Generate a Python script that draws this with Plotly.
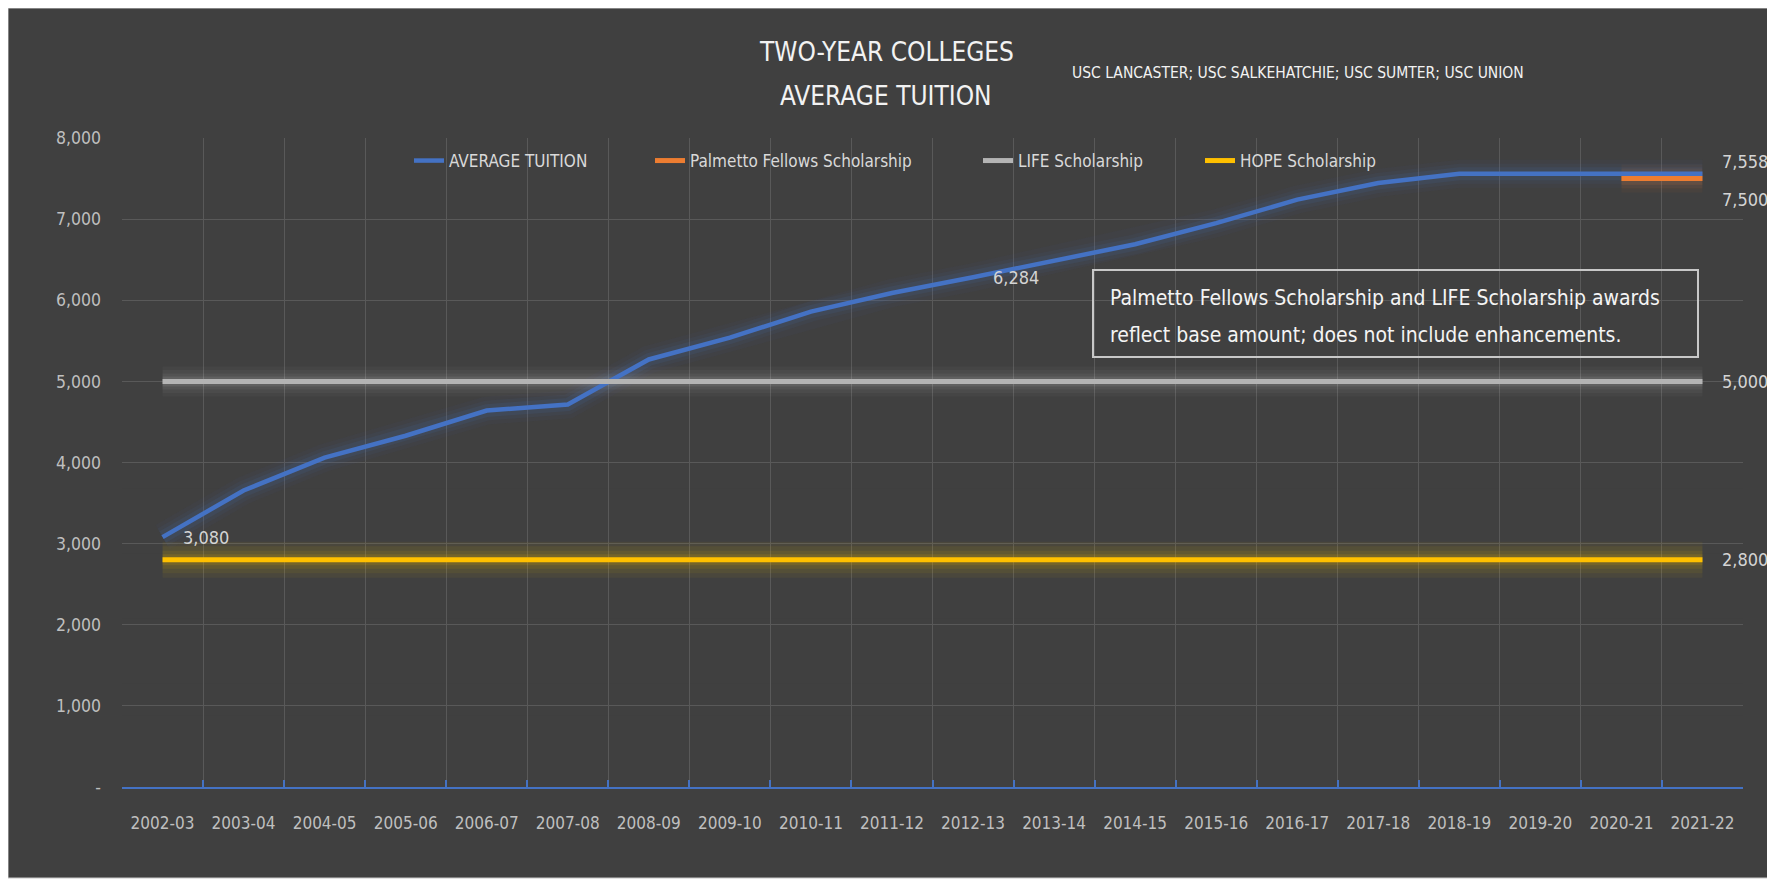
import plotly.graph_objects as go

years = ["2002-03", "2003-04", "2004-05", "2005-06", "2006-07", "2007-08", "2008-09",
         "2009-10", "2010-11", "2011-12", "2012-13", "2013-14", "2014-15", "2015-16",
         "2016-17", "2017-18", "2018-19", "2019-20", "2020-21", "2021-22"]
avg_tuition = [3080, 3655, 4060, 4330, 4640, 4715, 5270, 5540, 5860, 6090,
               6284, 6480, 6690, 6950, 7240, 7446, 7558, 7558, 7558, 7558]
palmetto = [None, None, None, None, None, None, None, None, None, None,
            None, None, None, None, None, None, None, None, 7500, 7500]
life = [5000, 5000, 5000, 5000, 5000, 5000, 5000, 5000, 5000, 5000,
        5000, 5000, 5000, 5000, 5000, 5000, 5000, 5000, 5000, 5000]
hope = [2800, 2800, 2800, 2800, 2800, 2800, 2800, 2800, 2800, 2800,
        2800, 2800, 2800, 2800, 2800, 2800, 2800, 2800, 2800, 2800]
y_ticks = [0, 1000, 2000, 3000, 4000, 5000, 6000, 7000, 8000]
y_ticktext = ["-", "1,000", "2,000", "3,000", "4,000", "5,000", "6,000", "7,000", "8,000"]

FONT = "DejaVu Sans Condensed, Liberation Sans, sans-serif"
BG = "#404040"
OFF = 8  # page body margin
W, H = 1775 - OFF, 883 - OFF
L, R, T, B = 122, 1743, 138, 787  # plot area, screen pixels


def px(x):
    return (x - L) / (R - L)


def py(y):
    return (B - y) / (B - T)


series = [
    ("AVERAGE TUITION", avg_tuition, "#4472C4", 4.5, "rgba(68,114,196,{})", "legend",
     [(28, 0.04), (20, 0.06), (13, 0.10)]),
    ("Palmetto Fellows Scholarship", palmetto, "#ED7D31", 5, "rgba(237,125,49,{})", "legend2",
     [(28, 0.05), (20, 0.07), (13, 0.10)]),
    ("LIFE Scholarship", life, "#B4B4B4", 5, "rgba(225,225,225,{})", "legend3",
     [(30, 0.03), (23, 0.04), (16, 0.06), (10, 0.10)]),
    ("HOPE Scholarship", hope, "#FFC000", 5, "rgba(230,180,0,{})", "legend4",
     [(36, 0.06), (27, 0.07), (18, 0.10), (11, 0.14)]),
]

fig = go.Figure()

# soft glow under each line
for name, vals, color, width, glow, lg, layers in series:
    for gw, op in layers:
        fig.add_trace(go.Scatter(x=years, y=vals, mode="lines", showlegend=False,
                                 hoverinfo="skip",
                                 line=dict(color=glow.format(op), width=gw)))

for name, vals, color, width, glow, lg, layers in series:
    fig.add_trace(go.Scatter(x=years, y=vals, mode="lines", name=name, legend=lg,
                             line=dict(color=color, width=width)))

# data labels
labels = [
    (avg_tuition, [0, 10, 19], {19: 12}),
    (palmetto, [19], {19: -21}),
    (life, [19], {}),
    (hope, [19], {}),
]
for vals, idxs, shifts in labels:
    for i in idxs:
        fig.add_annotation(x=years[i], y=vals[i], text=f"{vals[i]:,}", showarrow=False,
                           xanchor="left", yanchor="middle", xshift=18, yshift=shifts.get(i, 0),
                           font=dict(family=FONT, size=18, color="#d4d4d4"))

# titles
fig.add_annotation(xref="paper", yref="paper", x=px(886), y=py(52), text="TWO-YEAR COLLEGES",
                   xanchor="center", yanchor="middle",
                   showarrow=False, font=dict(family=FONT, size=26, color="#f2f2f2"))
fig.add_annotation(xref="paper", yref="paper", x=px(886), y=py(96), text="AVERAGE TUITION",
                   xanchor="center", yanchor="middle",
                   showarrow=False, font=dict(family=FONT, size=26, color="#f2f2f2"))
fig.add_annotation(xref="paper", yref="paper", x=px(1070), y=py(73), xanchor="left",
                   yanchor="middle",
                   text="USC LANCASTER; USC SALKEHATCHIE; USC SUMTER; USC UNION",
                   showarrow=False, font=dict(family=FONT, size=15.5, color="#f2f2f2"))

# note box
fig.add_shape(type="rect", xref="paper", yref="paper", x0=px(1093), x1=px(1698),
              y0=py(357), y1=py(270), line=dict(color="#c8c8c8", width=2), layer="above")
note_lines = ["Palmetto Fellows Scholarship and LIFE Scholarship awards",
              "reflect base amount; does not include enhancements."]
for line_text, yy in zip(note_lines, [298, 335]):
    fig.add_annotation(xref="paper", yref="paper", x=px(1108), y=py(yy), xanchor="left",
                       yanchor="middle", showarrow=False, text=line_text,
                       font=dict(family=FONT, size=21, color="#f4f4f4"))

# chart background panel
fig.add_shape(type="rect", xref="paper", yref="paper", x0=px(8), x1=px(1773),
              y0=py(878), y1=py(8), fillcolor=BG, line=dict(color="#c8c8c8", width=1),
              layer="below")

# fade gridlines towards the bottom
for top in [0.46, 0.41, 0.36, 0.31, 0.26, 0.21, 0.16, 0.11]:
    fig.add_shape(type="rect", xref="paper", yref="paper", x0=0, x1=1, y0=0, y1=top,
                  fillcolor="rgba(64,64,64,0.2)", line=dict(width=0), layer="between")

leg = dict(font=dict(family=FONT, size=17, color="#d9d9d9"), bgcolor="rgba(0,0,0,0)",
           yanchor="middle", xanchor="left", orientation="h", y=py(161))

fig.update_layout(
    width=W, height=H,
    margin=dict(l=L - OFF, r=W - (R - OFF), t=T - OFF, b=H - (B - OFF)),
    paper_bgcolor="white",
    plot_bgcolor="rgba(0,0,0,0)",
    showlegend=True,
    legend=dict(leg, x=px(409)),
    legend2=dict(leg, x=px(650)),
    legend3=dict(leg, x=px(978)),
    legend4=dict(leg, x=px(1200)),
    xaxis=dict(type="category", range=[-0.5, 19.5], tickson="boundaries",
               showgrid=True, gridcolor="#595959", gridwidth=1,
               showline=True, linecolor="#4472C4", linewidth=2,
               ticks="inside", ticklen=7, tickcolor="#4472C4", tickwidth=1.5,
               tickangle=0, ticklabelstandoff=20,
               tickfont=dict(family=FONT, size=17, color="#bfbfbf")),
    yaxis=dict(range=[0, 8000], tickvals=y_ticks, ticktext=y_ticktext,
               showgrid=True, gridcolor="#595959", gridwidth=1, zeroline=False,
               ticklabelstandoff=20,
               tickfont=dict(family=FONT, size=17.5, color="#bfbfbf")),
)

fig.write_html("out.html")
